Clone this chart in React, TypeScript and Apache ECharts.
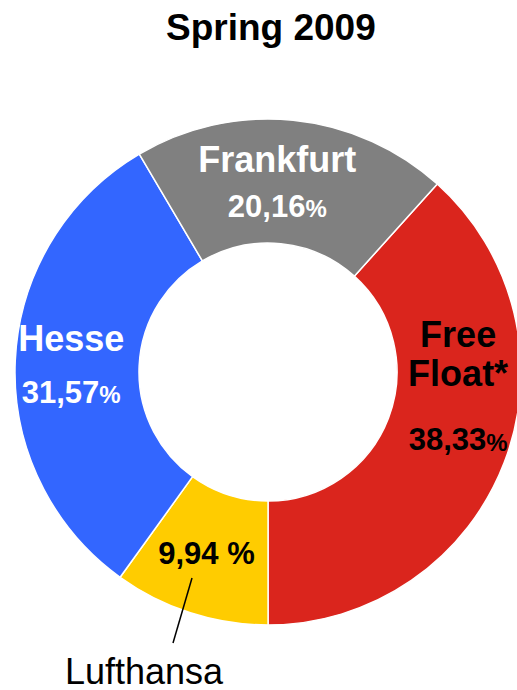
import React, { useEffect, useRef } from "react";
import * as echarts from "echarts";

const titleText = "Spring 2009";
const categories = ["Free Float", "Lufthansa", "Hesse", "Frankfurt"];
const shares = [38.33, 9.94, 31.57, 20.16];
const shareTexts = ["38,33", "9,94", "31,57", "20,16"];
const sliceColors = ["#DA251D", "#FFCC00", "#3366FF", "#808080"];
const calloutText = "Lufthansa";

const FONT = "'Liberation Sans', Arial, Helvetica, sans-serif";

export default function App() {
  const ref = useRef<HTMLDivElement>(null);
  useEffect(() => {
    if (!ref.current) return;
    const chart = echarts.init(ref.current, undefined, { renderer: "svg" });

    const nameStyle = (color: string, lh: number) => ({
      fontFamily: FONT, fontSize: 36, fontWeight: "bold", color, lineHeight: lh,
    });
    const valStyle = (color: string, lh: number) => ({
      fontFamily: FONT, fontSize: 31, fontWeight: "bold", color, lineHeight: lh,
    });
    const pctStyle = (color: string, lh: number) => ({
      fontFamily: FONT, fontSize: 24, fontWeight: "bold", color, lineHeight: lh, padding: [5, 0, 0, 0],
    });

    const labelFor = (i: number) => {
      const name = categories[i];
      if (name === "Free Float") {
        return {
          show: true, position: "inside", offset: [9, -41],
          formatter: "{n|Free}\n{n|Float*}\n{v|" + shareTexts[i] + "}{p|%}",
          rich: { n: nameStyle("#000", 39), v: valStyle("#000", 94), p: pctStyle("#000", 94) },
        };
      }
      if (name === "Lufthansa") {
        return {
          show: true, position: "inside", offset: [-2, -3],
          formatter: "{v|" + shareTexts[i] + " %}",
          rich: { v: valStyle("#000", 36) },
        };
      }
      if (name === "Hesse") {
        return {
          show: true, position: "inside", offset: [-3, 2],
          formatter: "{n|" + name + "}\n{v|" + shareTexts[i] + "}{p|%}",
          rich: { n: nameStyle("#fff", 54), v: valStyle("#fff", 54), p: pctStyle("#fff", 54) },
        };
      }
      return {
        show: true, position: "inside", offset: [-10, 4],
        formatter: "{n|" + name + "}\n{v|" + shareTexts[i] + "}{p|%}",
        rich: { n: nameStyle("#fff", 47), v: valStyle("#fff", 47), p: pctStyle("#fff", 47) },
      };
    };

    chart.setOption({
      animation: false,
      backgroundColor: "#ffffff",
      title: {
        text: titleText,
        left: 161,
        top: 4,
        textStyle: { fontFamily: FONT, fontSize: 37, fontWeight: "bold", color: "#000" },
      },
      series: [
        {
          type: "pie",
          center: [268, 372],
          radius: [129, 253],
          startAngle: 48,
          clockwise: true,
          silent: true,
          labelLine: { show: false },
          itemStyle: { borderColor: "#ffffff", borderWidth: 1.5 },
          data: categories.map((c, i) => ({
            name: c,
            value: shares[i],
            itemStyle: { color: sliceColors[i] },
            label: labelFor(i),
          })),
        },
      ],
      graphic: [
        {
          type: "line",
          z: 100,
          shape: { x1: 192, y1: 578, x2: 173, y2: 643 },
          style: { stroke: "#000", lineWidth: 1.5 },
        },
        {
          type: "text",
          z: 100,
          x: 144,
          y: 671,
          style: {
            text: calloutText,
            fontFamily: FONT,
            fontSize: 36,
            fill: "#000",
            align: "center",
            verticalAlign: "middle",
          },
        },
      ],
    });
    return () => chart.dispose();
  }, []);
  return (
    <div
      ref={ref}
      style={{ position: "fixed", left: 0, top: 0, width: 517, height: 690, background: "#fff" }}
    />
  );
}
